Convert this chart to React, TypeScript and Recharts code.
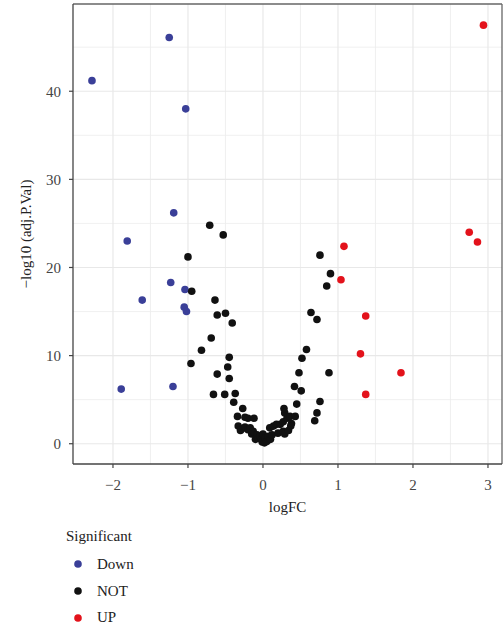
import React from 'react';
import {
  ScatterChart,
  Scatter,
  XAxis,
  YAxis,
  ReferenceLine,
  Legend,
} from 'recharts';

type Pt = { logFC: number; p: number };

const downPoints: Pt[] = [
  { logFC: -2.28, p: 41.2 },
  { logFC: -1.25, p: 46.1 },
  { logFC: -1.03, p: 38.0 },
  { logFC: -1.19, p: 26.2 },
  { logFC: -1.81, p: 23.0 },
  { logFC: -1.23, p: 18.3 },
  { logFC: -1.04, p: 17.5 },
  { logFC: -1.61, p: 16.3 },
  { logFC: -1.05, p: 15.5 },
  { logFC: -1.02, p: 15.0 },
  { logFC: -1.89, p: 6.2 },
  { logFC: -1.2, p: 6.5 },
];

const notPoints: Pt[] = [
  { logFC: -0.71, p: 24.8 },
  { logFC: -0.53, p: 23.7 },
  { logFC: -1.0, p: 21.2 },
  { logFC: -0.95, p: 17.3 },
  { logFC: -0.64, p: 16.3 },
  { logFC: -0.61, p: 14.6 },
  { logFC: -0.5, p: 14.8 },
  { logFC: -0.41, p: 13.7 },
  { logFC: -0.69, p: 12.0 },
  { logFC: -0.82, p: 10.6 },
  { logFC: -0.45, p: 9.8 },
  { logFC: -0.47, p: 8.7 },
  { logFC: -0.96, p: 9.1 },
  { logFC: -0.61, p: 7.9 },
  { logFC: -0.45, p: 7.4 },
  { logFC: -0.66, p: 5.6 },
  { logFC: -0.51, p: 5.6 },
  { logFC: -0.37, p: 5.7 },
  { logFC: -0.39, p: 4.7 },
  { logFC: -0.27, p: 4.0 },
  { logFC: -0.34, p: 3.1 },
  { logFC: -0.24, p: 3.0 },
  { logFC: -0.2, p: 2.9 },
  { logFC: -0.12, p: 2.9 },
  { logFC: -0.33, p: 2.0 },
  { logFC: -0.28, p: 1.7 },
  { logFC: -0.3, p: 1.5 },
  { logFC: -0.24, p: 1.9 },
  { logFC: -0.2, p: 1.6 },
  { logFC: -0.17, p: 1.8 },
  { logFC: -0.15, p: 1.1 },
  { logFC: -0.13, p: 1.4 },
  { logFC: -0.1, p: 0.5 },
  { logFC: -0.08, p: 1.0 },
  { logFC: -0.06, p: 0.65 },
  { logFC: -0.04, p: 0.83 },
  { logFC: -0.02, p: 0.45 },
  { logFC: -0.01, p: 0.2 },
  { logFC: 0.0, p: 1.1 },
  { logFC: 0.02, p: 0.1 },
  { logFC: 0.03, p: 0.65 },
  { logFC: 0.05, p: 0.26 },
  { logFC: 0.07, p: 0.83 },
  { logFC: 0.1, p: 0.5 },
  { logFC: 0.12, p: 1.0 },
  { logFC: 0.09, p: 1.8 },
  { logFC: 0.14, p: 2.0 },
  { logFC: 0.18, p: 2.2 },
  { logFC: 0.2, p: 1.2 },
  { logFC: 0.23, p: 2.2 },
  { logFC: 0.27, p: 1.4 },
  { logFC: 0.29, p: 1.1 },
  { logFC: 0.34, p: 1.5 },
  { logFC: 0.27, p: 2.5 },
  { logFC: 0.32, p: 2.9 },
  { logFC: 0.38, p: 2.3 },
  { logFC: 0.37, p: 2.0 },
  { logFC: 0.29, p: 3.5 },
  { logFC: 0.28, p: 4.0 },
  { logFC: 0.36, p: 3.1 },
  { logFC: 0.43, p: 3.1 },
  { logFC: 0.45, p: 4.5 },
  { logFC: 0.42, p: 6.5 },
  { logFC: 0.51, p: 6.0 },
  { logFC: 0.48, p: 8.05 },
  { logFC: 0.52, p: 9.7 },
  { logFC: 0.58, p: 10.7 },
  { logFC: 0.64, p: 14.9 },
  { logFC: 0.72, p: 14.1 },
  { logFC: 0.85, p: 17.9 },
  { logFC: 0.9, p: 19.3 },
  { logFC: 0.76, p: 21.4 },
  { logFC: 0.88, p: 8.05 },
  { logFC: 0.76, p: 4.8 },
  { logFC: 0.72, p: 3.5 },
  { logFC: 0.69, p: 2.6 },
];

const upPoints: Pt[] = [
  { logFC: 2.94, p: 47.5 },
  { logFC: 2.75, p: 24.0 },
  { logFC: 2.86, p: 22.9 },
  { logFC: 1.08, p: 22.4 },
  { logFC: 1.04, p: 18.6 },
  { logFC: 1.37, p: 14.5 },
  { logFC: 1.3, p: 10.2 },
  { logFC: 1.84, p: 8.05 },
  { logFC: 1.37, p: 5.6 },
];

const xTicks = [-2, -1, 0, 1, 2, 3];
const yTicks = [0, 10, 20, 30, 40];
const xMinor = [-1.5, -0.5, 0.5, 1.5, 2.5];
const yMinor = [5, 15, 25, 35, 45];
const xDomain: [number, number] = [-2.533, 3.187];
const yDomain: [number, number] = [-2.3, 49.9];

const seriesNames = ['Down', 'NOT', 'UP'];
const seriesColors = ['#3a3f98', '#111111', '#e3121b'];

const FONT = '"Liberation Serif", "DejaVu Serif", serif';

const Dot = (props: any) => {
  const { cx, cy, fill } = props;
  if (cx == null || cy == null) return null;
  return <circle cx={cx} cy={cy} r={3.8} fill={fill} />;
};

const LegendContent = () => (
  <div style={{ fontFamily: FONT, fontSize: 15, color: '#222' }}>
    <div style={{ height: 27, lineHeight: '24px' }}>Significant</div>
    {seriesNames.map((n, i) => (
      <div key={n} style={{ height: 26.7, display: 'flex', alignItems: 'center' }}>
        <svg width={24} height={12} style={{ display: 'block' }}>
          <circle cx={12} cy={6} r={3.8} fill={seriesColors[i]} />
        </svg>
        <span style={{ marginLeft: 7 }}>{n}</span>
      </div>
    ))}
  </div>
);

export default function App() {
  return (
    <div style={{ position: 'absolute', left: 0, top: 0, width: 503, height: 633, background: '#fff' }}>
      <ScatterChart
        width={503}
        height={633}
        margin={{ top: 4, right: 1, bottom: 119, left: 23 }}
      >
        {xMinor.map((v) => (
          <ReferenceLine key={'xm' + v} x={v} stroke="#ececec" strokeWidth={0.8} />
        ))}
        {yMinor.map((v) => (
          <ReferenceLine key={'ym' + v} y={v} stroke="#ececec" strokeWidth={0.8} />
        ))}
        {xTicks.map((v) => (
          <ReferenceLine key={'xM' + v} x={v} stroke="#e8e8e8" strokeWidth={1.2} />
        ))}
        {yTicks.map((v) => (
          <ReferenceLine key={'yM' + v} y={v} stroke="#e8e8e8" strokeWidth={1.2} />
        ))}
        <ReferenceLine y={yDomain[1]} stroke="#666" strokeWidth={1.3} />
        <ReferenceLine x={xDomain[1]} stroke="#666" strokeWidth={1.3} />
        <XAxis
          type="number"
          dataKey="logFC"
          domain={xDomain}
          ticks={xTicks}
          allowDataOverflow
          height={50}
          tickSize={4}
          tickMargin={11}
          axisLine={{ stroke: '#444', strokeWidth: 1.3 }}
          tickLine={{ stroke: '#444', strokeWidth: 1.2 }}
          tick={{ fontFamily: FONT, fontSize: 15, fill: '#444' }}
          tickFormatter={(v: number) => (v < 0 ? '\u2212' + Math.abs(v) : String(v))}
          label={{
            value: 'logFC',
            position: 'insideBottom',
            offset: 2,
            style: { fontFamily: FONT, fontSize: 15, fill: '#222' },
          }}
        />
        <YAxis
          type="number"
          dataKey="p"
          domain={yDomain}
          ticks={yTicks}
          allowDataOverflow
          width={50}
          tickSize={4}
          tickMargin={8}
          axisLine={{ stroke: '#444', strokeWidth: 1.3 }}
          tickLine={{ stroke: '#444', strokeWidth: 1.2 }}
          tick={{ fontFamily: FONT, fontSize: 15, fill: '#444' }}
          label={{
            value: '\u2212log10 (adj.P.Val)',
            angle: -90,
            position: 'center',
            dx: -22,
            style: { fontFamily: FONT, fontSize: 15, fill: '#222', textAnchor: 'middle' },
          }}
        />
        <Legend
          layout="horizontal"
          verticalAlign="middle"
          align="center"
          content={<LegendContent />}
          wrapperStyle={{ position: 'absolute', left: 66, top: 524, width: 200, height: 110 }}
        />
        <Scatter name="Down" data={downPoints} fill={seriesColors[0]} shape={<Dot />} isAnimationActive={false} />
        <Scatter name="NOT" data={notPoints} fill={seriesColors[1]} shape={<Dot />} isAnimationActive={false} />
        <Scatter name="UP" data={upPoints} fill={seriesColors[2]} shape={<Dot />} isAnimationActive={false} />
      </ScatterChart>
    </div>
  );
}
